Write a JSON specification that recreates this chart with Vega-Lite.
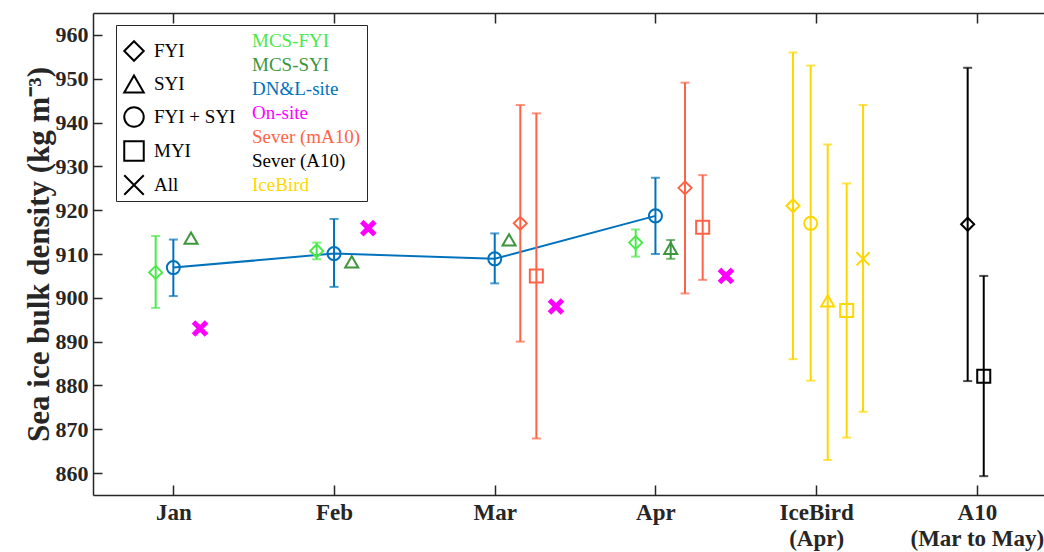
{
  "$schema": "https://vega.github.io/schema/vega-lite/v6.json",
  "autosize": {"type": "none"},
  "padding": {"left": 93, "top": 13, "right": 0, "bottom": 57},
  "width": 951,
  "height": 482,
  "background": "white",
  "config": {
    "view": {"stroke": null},
    "axis": {
      "grid": false,
      "domainColor": "#262626",
      "domainWidth": 1.5,
      "tickColor": "#262626",
      "tickWidth": 1.5,
      "labelFont": "Liberation Serif",
      "labelFontWeight": "bold",
      "labelFontSize": 22,
      "labelColor": "#262626",
      "titleFont": "Liberation Serif",
      "titleFontWeight": "bold",
      "titleColor": "#262626"
    },
    "legend": {
      "labelFont": "Liberation Serif",
      "labelFontSize": 19,
      "labelColor": "#000000"
    }
  },
  "data": {
    "values": [
      {"ds": "MCS-FYI", "type": "FYI", "x": 0.89, "y": 905.8, "lo": 897.7, "hi": 914.1},
      {"ds": "MCS-FYI", "type": "FYI", "x": 1.892, "y": 910.7, "lo": 908.8, "hi": 912.6},
      {"ds": "MCS-FYI", "type": "FYI", "x": 3.877, "y": 912.6, "lo": 909.4, "hi": 915.6},
      {"ds": "MCS-SYI", "type": "SYI", "x": 1.11, "y": 913.6},
      {"ds": "MCS-SYI", "type": "SYI", "x": 2.11, "y": 908.2},
      {"ds": "MCS-SYI", "type": "SYI", "x": 3.089, "y": 913.2},
      {"ds": "MCS-SYI", "type": "SYI", "x": 4.095, "y": 911.3, "lo": 908.9, "hi": 913.2},
      {"ds": "DN&L-site", "type": "FYI + SYI", "x": 1.0, "y": 906.9, "lo": 900.4, "hi": 913.3},
      {"ds": "DN&L-site", "type": "FYI + SYI", "x": 2.0, "y": 910.1, "lo": 902.5, "hi": 918.0},
      {"ds": "DN&L-site", "type": "FYI + SYI", "x": 3.0, "y": 908.9, "lo": 903.3, "hi": 914.7},
      {"ds": "DN&L-site", "type": "FYI + SYI", "x": 4.0, "y": 918.7, "lo": 910.0, "hi": 927.4},
      {"ds": "On-site", "type": "All", "x": 1.166, "y": 893.0},
      {"ds": "On-site", "type": "All", "x": 2.213, "y": 915.9},
      {"ds": "On-site", "type": "All", "x": 3.381, "y": 898.0},
      {"ds": "On-site", "type": "All", "x": 4.439, "y": 905.0},
      {"ds": "Sever (mA10)", "type": "FYI", "x": 3.159, "y": 917.0, "lo": 890.0, "hi": 944.0},
      {"ds": "Sever (mA10)", "type": "MYI", "x": 3.259, "y": 905.0, "lo": 867.9, "hi": 942.1},
      {"ds": "Sever (mA10)", "type": "FYI", "x": 4.184, "y": 925.1, "lo": 901.0, "hi": 949.1},
      {"ds": "Sever (mA10)", "type": "MYI", "x": 4.294, "y": 916.1, "lo": 904.1, "hi": 928.0},
      {"ds": "IceBird", "type": "FYI", "x": 4.856, "y": 921.0, "lo": 886.0, "hi": 956.0},
      {"ds": "IceBird", "type": "FYI + SYI", "x": 4.966, "y": 917.0, "lo": 881.1, "hi": 953.0},
      {"ds": "IceBird", "type": "SYI", "x": 5.072, "y": 899.3, "lo": 863.0, "hi": 935.0},
      {"ds": "IceBird", "type": "MYI", "x": 5.19, "y": 897.1, "lo": 868.1, "hi": 926.1},
      {"ds": "IceBird", "type": "All", "x": 5.292, "y": 908.9, "lo": 874.0, "hi": 944.0},
      {"ds": "Sever (A10)", "type": "FYI", "x": 5.943, "y": 916.8, "lo": 881.0, "hi": 952.5},
      {"ds": "Sever (A10)", "type": "MYI", "x": 6.043, "y": 882.1, "lo": 859.3, "hi": 905.0}
    ]
  },
  "resolve": {"axis": {"x": "independent", "y": "independent"}},
  "layer": [
    {
      "transform": [{"filter": "datum.ds == 'DN&L-site'"}],
      "mark": {"type": "line", "color": "#0072BD", "strokeWidth": 2},
      "encoding": {
        "x": {
          "field": "x", "type": "quantitative",
          "scale": {"domain": [0.5, 6.418], "nice": false, "zero": false},
          "axis": {
            "orient": "bottom", "title": null,
            "values": [1, 2, 3, 4, 5, 6],
            "tickSize": -10, "labelPadding": 16, "labelLineHeight": 26,
            "labelFontSize": 23,
            "labelBaseline": "top",
            "labelExpr": "datum.value == 1 ? 'Jan' : datum.value == 2 ? 'Feb' : datum.value == 3 ? 'Mar' : datum.value == 4 ? 'Apr' : datum.value == 5 ? ['IceBird', '(Apr)'] : ['A10', '(Mar to May)']"
          }
        },
        "y": {
          "field": "y", "type": "quantitative",
          "scale": {"domain": [855, 965], "nice": false, "zero": false},
          "axis": {
            "orient": "left",
            "title": "Sea ice bulk density (kg m⁻³)",
            "titleFontSize": 31,
            "titlePadding": 0,
            "values": [860, 870, 880, 890, 900, 910, 920, 930, 940, 950, 960],
            "tickSize": -9, "labelPadding": 14
          }
        },
        "order": {"field": "x", "type": "quantitative"}
      }
    },
    {
      "transform": [{"filter": "isValid(datum.lo)"}],
      "mark": {"type": "rule", "strokeWidth": 2},
      "encoding": {
        "x": {
          "field": "x", "type": "quantitative",
          "axis": {"orient": "top", "title": null, "labels": false, "values": [1, 2, 3, 4, 5, 6], "tickSize": -10}
        },
        "y": {"field": "lo", "type": "quantitative", "axis": null},
        "y2": {"field": "hi"},
        "color": {
          "field": "ds", "type": "nominal",
          "scale": {
            "domain": ["MCS-FYI", "MCS-SYI", "DN&L-site", "On-site", "Sever (mA10)", "Sever (A10)", "IceBird"],
            "range": ["#4BE84B", "#3C963C", "#0072BD", "#FF00FF", "#FF6347", "#000000", "#FFD700"]
          },
          "legend": {
            "title": null,
            "orient": "none",
            "legendX": 23,
            "legendY": 12,
            "padding": 6,
            "strokeColor": "#262626",
            "symbolOpacity": 0,
            "symbolSize": 16,
            "labelOffset": 111,
            "rowPadding": 4,
            "encode": {"labels": {"update": {"fill": {"scale": "color", "field": "value"}}}}
          }
        }
      }
    },
    {
      "transform": [{"filter": "isValid(datum.lo)"}],
      "mark": {"type": "tick", "orient": "horizontal", "size": 9, "thickness": 2},
      "encoding": {
        "x": {"field": "x", "type": "quantitative", "axis": null},
        "y": {"field": "lo", "type": "quantitative", "axis": null},
        "color": {"field": "ds", "type": "nominal"}
      }
    },
    {
      "transform": [{"filter": "isValid(datum.hi)"}],
      "mark": {"type": "tick", "orient": "horizontal", "size": 9, "thickness": 2},
      "encoding": {
        "x": {"field": "x", "type": "quantitative", "axis": null},
        "y": {"field": "hi", "type": "quantitative", "axis": null},
        "color": {"field": "ds", "type": "nominal"}
      }
    },
    {
      "transform": [{"filter": "datum.ds != 'On-site'"}],
      "mark": {"type": "point", "filled": false, "strokeWidth": 2, "size": 170, "opacity": 1},
      "encoding": {
        "x": {"field": "x", "type": "quantitative", "axis": null},
        "y": {"field": "y", "type": "quantitative", "axis": null},
        "color": {"field": "ds", "type": "nominal"},
        "shape": {
          "field": "type", "type": "nominal",
          "scale": {
            "domain": ["FYI", "SYI", "FYI + SYI", "MYI", "All"],
            "range": ["diamond", "triangle-up", "circle", "square", "M-1,-1L1,1M-1,1L1,-1"]
          },
          "legend": {
            "title": null,
            "orient": "none",
            "legendX": 30,
            "legendY": 27,
            "padding": 0,
            "symbolSize": 380,
            "symbolStrokeColor": "#000000",
            "symbolFillColor": "transparent",
            "symbolStrokeWidth": 2,
            "labelOffset": 9,
            "rowPadding": 6
          }
        }
      }
    },
    {
      "transform": [{"filter": "datum.ds == 'On-site'"}],
      "mark": {"type": "point", "filled": false, "strokeWidth": 5, "size": 170, "opacity": 1},
      "encoding": {
        "x": {"field": "x", "type": "quantitative", "axis": null},
        "y": {"field": "y", "type": "quantitative", "axis": null},
        "color": {"field": "ds", "type": "nominal"},
        "shape": {"field": "type", "type": "nominal"}
      }
    }
  ]
}
